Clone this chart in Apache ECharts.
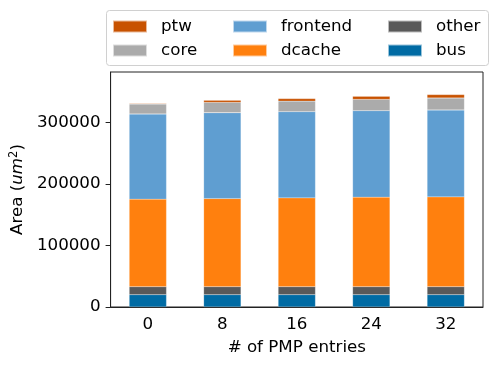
<!DOCTYPE html>
<html>
<head>
<meta charset="utf-8">
<script src="https://cdn.jsdelivr.net/npm/echarts@6/dist/echarts.min.js"></script>
<style>
  html, body { margin: 0; padding: 0; background: #fff; }
  #chart { width: 498px; height: 367px; }
</style>
</head>
<body>
<div id="chart"></div>
<script>
// data
var entries = ['0', '8', '16', '24', '32'];
var bus = [20000, 20000, 20000, 20000, 20000];
var other = [13000, 13000, 13000, 13000, 13000];
var dcache = [142300, 143300, 144400, 145500, 146000];
var frontend = [138400, 139500, 140100, 140600, 141200];
var core = [16300, 16900, 17300, 18500, 19500];
var ptw = [1000, 3300, 3800, 4800, 5400];
var yTicks = [0, 100000, 200000, 300000];

var FONT = 'DejaVu Sans';
var FS = 16.7;

var colors = {
    bus: '#006BA4', other: '#595959', dcache: '#FF800E',
    frontend: '#5F9ED1', core: '#ABABAB', ptw: '#C85200'
};

function bar(name, data) {
    return {
        name: name, type: 'bar', stack: 'area', data: data, barWidth: '50%',
        itemStyle: { color: colors[name], borderColor: 'rgba(255,255,255,0.6)', borderWidth: 0.3 }
    };
}

function legendCol(left, names) {
    return {
        data: names, orient: 'vertical', left: left, top: 18, padding: 0,
        itemGap: 7, itemWidth: 34, itemHeight: 12, icon: 'rect',
        selectedMode: false,
        textStyle: { fontFamily: FONT, fontSize: FS, color: '#000', lineHeight: 13, padding: [0, 0, 0, 9] }
    };
}

var chart = echarts.init(document.getElementById('chart'));
chart.setOption({
    animation: false,
    backgroundColor: '#fff',
    textStyle: { fontFamily: FONT },
    grid: { left: 110, right: 15, top: 72, bottom: 60, show: true, borderColor: '#222', borderWidth: 1 },
    legend: [
        legendCol(112, ['ptw', 'core']),
        legendCol(232, ['frontend', 'dcache']),
        legendCol(387, ['other', 'bus'])
    ],
    graphic: [{
        type: 'rect', left: 106, top: 10, z: -1,
        shape: { width: 382, height: 55, r: 3 },
        style: { fill: '#fff', stroke: '#d0d0d0', lineWidth: 1 }
    }],
    xAxis: {
        type: 'category', data: entries, boundaryGap: true,
        name: '# of PMP entries', nameLocation: 'middle', nameGap: 32,
        nameTextStyle: { fontFamily: FONT, fontSize: FS, color: '#000' },
        axisLine: { lineStyle: { color: '#222', width: 1 } },
        axisTick: { alignWithLabel: true, length: 5, lineStyle: { color: '#222' } },
        axisLabel: { fontFamily: FONT, fontSize: FS, color: '#000', margin: 9 }
    },
    yAxis: {
        type: 'value', min: 0, max: 382000,
        name: '{n|Area (}{i|um}{s|2}{n|)}', nameLocation: 'middle', nameGap: 78, nameRotate: 90,
        nameTextStyle: {
            rich: {
                n: { fontFamily: FONT, fontSize: FS, color: '#000' },
                i: { fontFamily: FONT, fontSize: FS, fontStyle: 'italic', color: '#000' },
                s: { fontFamily: FONT, fontSize: 11.5, color: '#000', verticalAlign: 'top', padding: [0, 0, 7, 0] }
            }
        },
        splitLine: { show: false },
        axisLine: { show: true, lineStyle: { color: '#222', width: 1 } },
        axisTick: { show: true, length: 5, customValues: yTicks, lineStyle: { color: '#222' } },
        axisLabel: {
            fontFamily: FONT, fontSize: FS, color: '#000', margin: 10, customValues: yTicks,
            formatter: function (v) { return String(v); }
        }
    },
    series: [
        bar('bus', bus),
        bar('other', other),
        bar('dcache', dcache),
        bar('frontend', frontend),
        bar('core', core),
        bar('ptw', ptw)
    ]
});
</script>
</body>
</html>
